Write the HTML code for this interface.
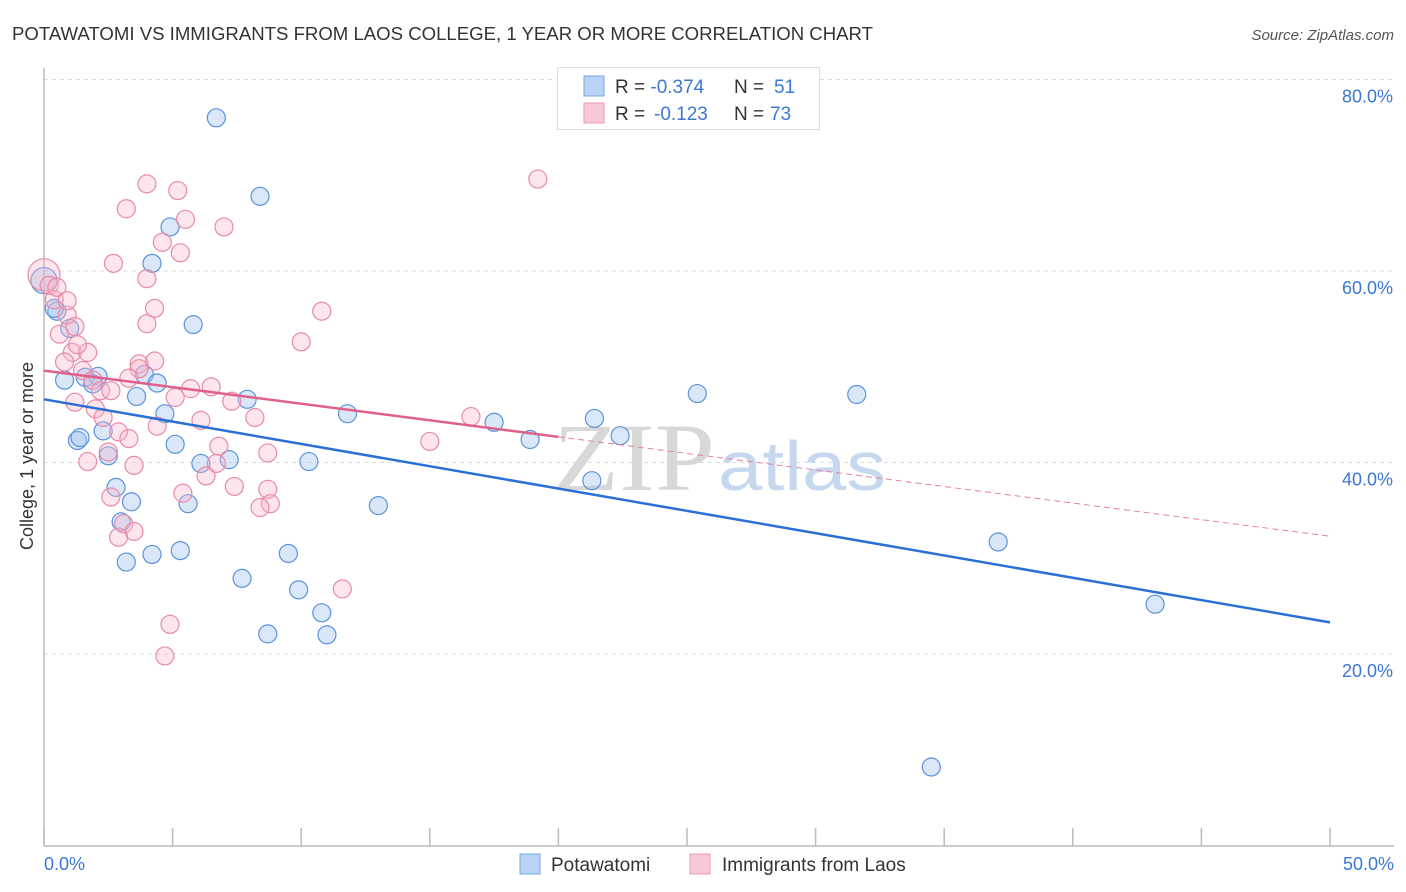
<!DOCTYPE html>
<html><head><meta charset="utf-8"><style>
body{margin:0;background:#fff;font-family:"Liberation Sans",sans-serif;}
svg{display:block}
</style></head><body>
<svg id="chart" width="1406" height="892" xmlns="http://www.w3.org/2000/svg">
<text x="12" y="40" font-size="18" fill="#333" textLength="861" lengthAdjust="spacingAndGlyphs">POTAWATOMI VS IMMIGRANTS FROM LAOS COLLEGE, 1 YEAR OR MORE CORRELATION CHART</text>
<text x="1394" y="40" font-size="15" fill="#555" font-style="italic" text-anchor="end">Source: ZipAtlas.com</text>
<g id="grid"></g>
<g id="xticks"></g>
<line x1="44" y1="68" x2="44" y2="846" stroke="#bbb" stroke-width="1.5"/>
<line x1="44" y1="846" x2="1394" y2="846" stroke="#bbb" stroke-width="1.5"/>
<text x="553" y="490" font-size="96" fill="#d8d8d8" font-family="Liberation Serif,serif" textLength="162" lengthAdjust="spacingAndGlyphs">ZIP</text>
<text x="718" y="490" font-size="70" fill="#c6d8ef" textLength="168" lengthAdjust="spacingAndGlyphs">atlas</text>
<g id="pts"></g>
<g id="trend"></g>
<text x="33" y="456" font-size="18" fill="#333" text-anchor="middle" transform="rotate(-90 33 456)">College, 1 year or more</text>
<text x="44" y="870" font-size="18" fill="#3a78d4">0.0%</text>
<text x="1394" y="870" font-size="18" fill="#3a78d4" text-anchor="end">50.0%</text>
<g>
<rect x="557.5" y="67.5" width="262" height="62" fill="#fff" stroke="#ddd"/>
<rect x="584" y="76" width="20" height="20" fill="#b9d3f5" stroke="#7aa6e3"/>
<rect x="584" y="103" width="20" height="20" fill="#f9c8d7" stroke="#eb9ab4"/>
<text x="615" y="93" font-size="19" fill="#333">R = <tspan fill="#3a78d4">-0.374</tspan><tspan x="734">N = </tspan><tspan x="774" fill="#3a78d4">51</tspan></text>
<text x="615" y="120" font-size="19" fill="#333">R = <tspan x="654" fill="#3a78d4">-0.123</tspan><tspan x="734">N = </tspan><tspan x="770" fill="#3a78d4">73</tspan></text>
</g>
<g>
<rect x="520" y="854" width="20" height="20" fill="#b9d3f5" stroke="#7aa6e3"/>
<text x="551" y="871" font-size="19" fill="#333">Potawatomi</text>
<rect x="690" y="854" width="20" height="20" fill="#f9c8d7" stroke="#eb9ab4"/>
<text x="722" y="871" font-size="19" fill="#333">Immigrants from Laos</text>
</g>
</svg>
<script>
const yTicks=[20,40,60,80];
const xTicks=[0,5,10,15,20,25,30,35,40,45,50];
const blueX=[6.7,8.4,4.9,4.2,0,5.8,0.5,1.0,0.8,1.6,2.1,1.9,3.9,4.4,3.6,7.9,4.7,11.8,25.4,31.6,17.5,21.4,1.3,1.4,2.3,2.5,5.1,22.4,18.9,6.1,7.2,10.3,21.3,2.8,3.4,5.6,13.0,3.0,4.2,5.3,9.5,3.2,7.7,9.9,10.8,8.7,11.0,37.1,43.2,34.5,0.4];
const blueY=[76.0,67.8,64.6,60.8,59.0,54.4,55.8,54.0,48.6,48.9,49.0,48.2,49.2,48.3,46.9,46.6,45.1,45.1,47.2,47.1,44.2,44.6,42.3,42.6,43.3,40.7,41.9,42.8,42.4,39.9,40.3,40.1,38.1,37.4,35.9,35.7,35.5,33.8,30.4,30.8,30.5,29.6,27.9,26.7,24.3,22.1,22.0,31.7,25.2,8.2,56.1];
const pinkX=[19.2,4.0,5.2,3.2,5.5,7.0,4.6,5.3,2.7,4.0,0,0.2,0.4,4.3,10.8,0.9,4.0,1.2,0.6,1.1,1.7,10.0,1.3,3.7,4.3,0.8,1.5,3.7,3.3,1.9,2.2,2.6,5.1,6.5,5.7,7.3,8.2,16.6,1.2,2.0,2.3,4.4,6.1,2.9,3.3,15.0,6.8,2.5,8.7,6.7,1.7,3.5,6.3,7.4,5.4,8.7,2.6,8.8,8.4,3.1,3.5,2.9,11.6,4.9,4.7,0.5,0.9];
const pinkY=[69.6,69.1,68.4,66.5,65.4,64.6,63.0,61.9,60.8,59.2,59.6,58.5,57.0,56.1,55.8,55.4,54.5,54.2,53.4,51.5,51.5,52.6,52.3,50.3,50.6,50.5,49.6,49.8,48.8,48.6,47.5,47.5,46.8,47.9,47.7,46.4,44.7,44.8,46.3,45.6,44.7,43.8,44.4,43.2,42.5,42.2,41.7,41.1,41.0,39.9,40.1,39.7,38.6,37.5,36.8,37.2,36.4,35.7,35.3,33.6,32.8,32.2,26.8,23.1,19.8,58.3,56.9];
const blueTrend=[46.6,23.3];
const pinkTrend=[49.6,32.3];
const pinkSolidEnd=20;
const X=v=>44+v*25.72, Y=v=>845.5-v*9.575;
const NS="http://www.w3.org/2000/svg";
function mk(tag,attrs,parent){const e=document.createElementNS(NS,tag);for(const k in attrs)e.setAttribute(k,attrs[k]);parent.appendChild(e);return e;}
const grid=document.getElementById('grid');
yTicks.forEach(t=>{
 const l=mk('line',{x1:44,x2:1394,y1:Y(t),y2:Y(t),stroke:'#ddd','stroke-dasharray':'4,4'},grid);
 
 
 const tx=mk('text',{x:1393,y:Y(t)+23,'font-size':18,fill:'#3a78d4','text-anchor':'end'},grid);
 tx.textContent=t.toFixed(1)+'%';
 
 
});
const xt=document.getElementById('xticks');
xTicks.forEach(t=>{
 const l=mk('line',{x1:X(t),x2:X(t),y1:828,y2:846,stroke:'#bbb','stroke-width':1.5},xt);
 
 
});
const pts=document.getElementById('pts');
blueX.forEach((v,i)=>{
 const c=mk('circle',{cx:X(v),cy:Y(blueY[i]),r:v===0?13:9,fill:'rgba(160,196,240,0.4)',stroke:'#5b93dc','stroke-width':1.2},pts);
 
 
});
pinkX.forEach((v,i)=>{
 const c=mk('circle',{cx:X(v),cy:Y(pinkY[i]),r:v===0?16:9,fill:'rgba(246,180,200,0.35)',stroke:'#e88aaa','stroke-width':1.2},pts);
 
 
});
const tr=document.getElementById('trend');
const bl=mk('line',{x1:X(0),y1:Y(blueTrend[0]),x2:X(50),y2:Y(blueTrend[1]),stroke:'#2a6fd6','stroke-width':2.5},tr);


const pAt=x=>pinkTrend[0]+(pinkTrend[1]-pinkTrend[0])*x/50;
const ps=mk('line',{x1:X(0),y1:Y(pAt(0)),x2:X(pinkSolidEnd),y2:Y(pAt(pinkSolidEnd)),stroke:'#e0608a','stroke-width':2.5},tr);


const pd=mk('line',{x1:X(pinkSolidEnd),y1:Y(pAt(pinkSolidEnd)),x2:X(50),y2:Y(pAt(50)),stroke:'#e8809f','stroke-width':1,'stroke-dasharray':'6,4'},tr);


</script>
</body></html>
